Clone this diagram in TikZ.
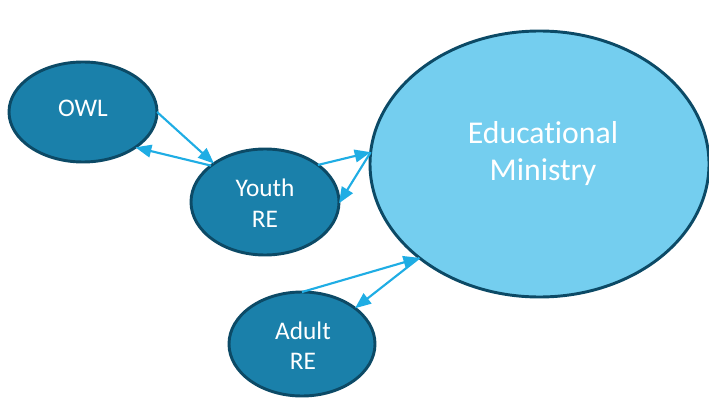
\documentclass[tikz,border=0pt]{standalone}
\usepackage{fontspec}
\setmainfont[Ligatures=NoCommon]{Carlito}
\usetikzlibrary{shapes.geometric,arrows.meta}
\definecolor{smallfill}{HTML}{1A80AA}
\definecolor{edgecol}{HTML}{0C4A66}
\definecolor{bigfill}{HTML}{74CEEF}
\definecolor{arrcol}{HTML}{1FADE4}
\tikzset{
  bubble/.style={ellipse, draw=edgecol, line width=2.2pt, fill=smallfill, inner sep=0pt, outer sep=0pt},
  bigbubble/.style={bubble, fill=bigfill},
  smalltxt/.style={text=white, inner sep=0pt, anchor=base, font=\fontsize{19pt}{22pt}\selectfont},
  bigtxt/.style={text=white, inner sep=0pt, anchor=base, font=\fontsize{23.8pt}{28pt}\selectfont},
  link/.style={draw=arrcol, line width=1.6pt, -{Triangle[length=12pt,width=9.5pt]}}
}
\begin{document}
\begin{tikzpicture}[x=0.75pt,y=-0.75pt]
\useasboundingbox (0,0) rectangle (709,399);
\node[bubble, minimum width=111pt, minimum height=75pt] (owl) at (83,112) {};
\node[bubble, minimum width=111pt, minimum height=79.5pt] (youth) at (265,202) {};
\node[bubble, minimum width=109.5pt, minimum height=78pt] (adult) at (302,344) {};
\node[bigbubble, minimum width=254.25pt, minimum height=199.5pt] (edu) at (539.5,164) {};
\node[smalltxt] (t1) at (83,117) {OWL};
\node[smalltxt] (t2) at (265,196) {Youth};
\node[smalltxt] (t3) at (265,227) {RE};
\node[smalltxt] (t4) at (303,339) {Adult};
\node[smalltxt] (t5) at (303,369) {RE};
\node[bigtxt] (t6) at (543,143) {Educational};
\node[bigtxt] (t7) at (543,180) {Ministry};
\draw[link] (owl.0) -- (youth.143);
\draw[link] (youth.146) -- (owl.-34);
\draw[link] (youth.35) -- (edu.176);
\draw[link] (edu.176) -- (youth.-1);
\draw[link] (adult.90) -- (edu.218);
\draw[link] (edu.218) -- (adult.34);
\end{tikzpicture}
\end{document}
